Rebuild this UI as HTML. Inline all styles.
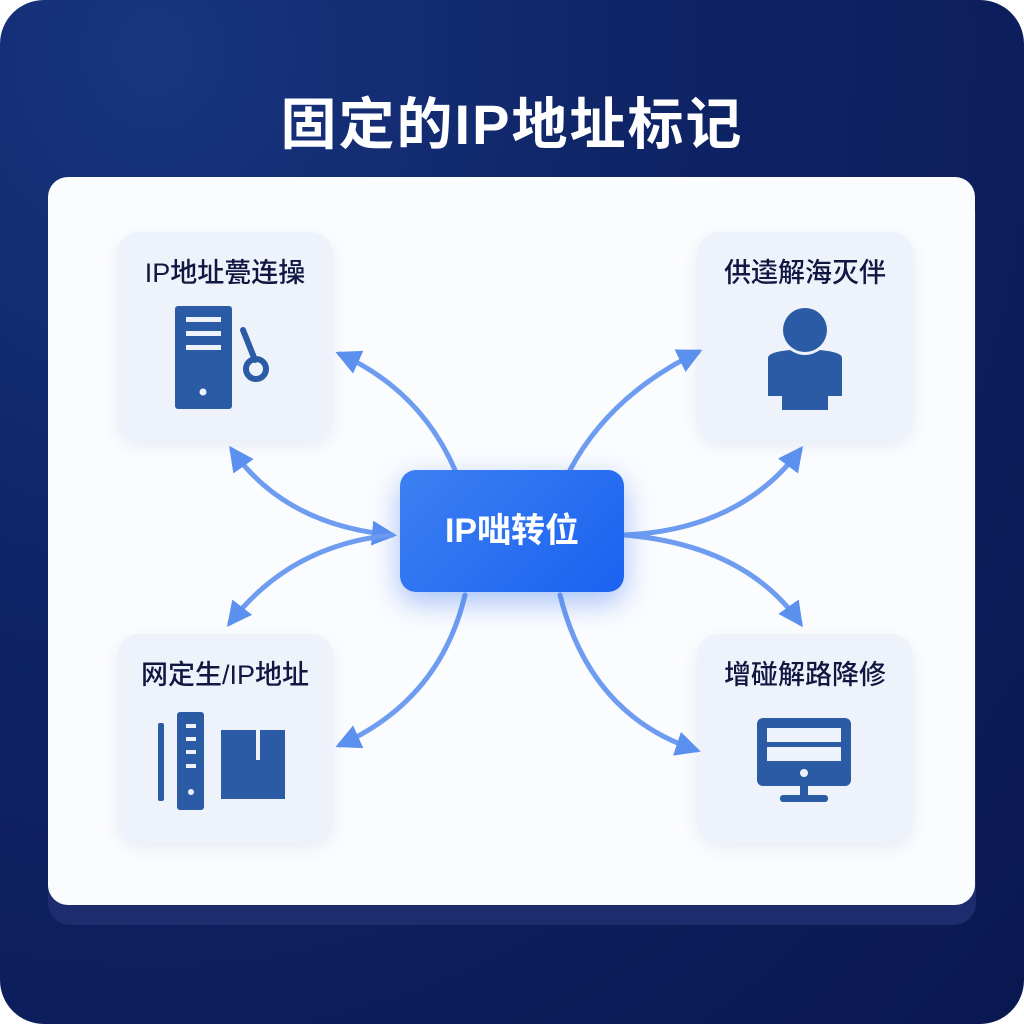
<!DOCTYPE html>
<html><head><meta charset="utf-8"><style>
html,body{margin:0;padding:0;width:1024px;height:1024px;overflow:hidden;background:#fff}
.bg{position:absolute;left:0;top:0;width:1024px;height:1024px;border-radius:44px;background:radial-gradient(ellipse at 15% 5%,#183580 0%,#0f2466 40%,#0a1850 100%)}
.t{position:absolute;left:0;width:1024px;text-align:center;top:80px;color:#fff;font:bold 56px "Liberation Sans","Noto Sans CJK SC",sans-serif;letter-spacing:2px}
.panelsh{position:absolute;left:48px;top:195px;width:928px;height:730px;border-radius:22px;background:#1c2c6c}
.panel{position:absolute;left:48px;top:177px;width:927px;height:728px;border-radius:20px;background:#fbfcfe}
.card{position:absolute;width:216px;height:208px;border-radius:22px;background:#eef3fb;box-shadow:0 6px 16px rgba(120,150,200,.15)}
.lbl{position:absolute;left:0;width:216px;text-align:center;top:19px;font:500 27px "Liberation Sans","Noto Sans CJK SC",sans-serif;color:#111740}
.center{position:absolute;left:400px;top:470px;width:224px;height:122px;border-radius:16px;background:linear-gradient(135deg,#3c80f2,#1b62f0);box-shadow:0 10px 30px rgba(60,120,240,.45);color:#fff;font:bold 34px "Liberation Sans","Noto Sans CJK SC",sans-serif;text-align:center;line-height:122px}
svg{position:absolute;left:0;top:0}
</style></head><body>
<div class="bg"></div>
<div class="t">固定的IP地址标记</div>
<div class="panelsh"></div>
<div class="panel"></div>
<div class="card" style="left:117px;top:232px"><div class="lbl">IP地址甍连操</div></div>
<div class="card" style="left:697px;top:232px"><div class="lbl">供逵解海灭伴</div></div>
<div class="card" style="left:117px;top:634px"><div class="lbl">网定生/IP地址</div></div>
<div class="card" style="left:697px;top:634px"><div class="lbl">增碰解路降修</div></div>
<svg width="1024" height="1024" viewBox="0 0 1024 1024">
<defs><marker id="a" viewBox="0 0 10 10" refX="8" refY="5" markerWidth="5" markerHeight="5" orient="auto-start-reverse"><path d="M0,0L10,5L0,10z" fill="#5b90ee"/></marker></defs>
<g fill="none" stroke="#6d9cf0" stroke-width="5" stroke-linecap="round">
<path d="M455,470 Q420,390 340,354" marker-end="url(#a)"/>
<path d="M232,450 Q285,525 392,535" marker-start="url(#a)" marker-end="url(#a)"/>
<path d="M392,535 Q290,545 230,623" marker-end="url(#a)"/>
<path d="M465,595 Q440,700 340,745" marker-end="url(#a)"/>
<path d="M570,470 Q610,395 698,352" marker-end="url(#a)"/>
<path d="M624,535 Q740,530 800,450" marker-end="url(#a)"/>
<path d="M624,535 Q745,545 800,623" marker-end="url(#a)"/>
<path d="M560,595 Q590,715 696,750" marker-end="url(#a)"/>
</g>
<g fill="#2c5ba6">
<rect x="175" y="306" width="57" height="103" rx="3"/>
<rect x="186" y="317" width="35" height="5" fill="#eef3fb"/><rect x="186" y="331" width="35" height="5" fill="#eef3fb"/><rect x="186" y="345" width="35" height="5" fill="#eef3fb"/>
<circle cx="203" cy="392" r="3.5" fill="#eef3fb"/>
<path d="M243,330 L255,360" stroke="#2c5ba6" stroke-width="6" stroke-linecap="round"/>
<circle cx="256" cy="369" r="10" fill="none" stroke="#2c5ba6" stroke-width="6"/>
<circle cx="805" cy="330" r="22"/>
<path d="M768,358 Q768,352 790,350 Q805,360 820,350 Q842,352 842,358 L842,396 L828,396 L828,410 L782,410 L782,396 L768,396z"/>
<rect x="158" y="723" width="6" height="78" rx="2"/>
<rect x="177" y="712" width="27" height="98" rx="3"/>
<rect x="186" y="724" width="10" height="4" fill="#eef3fb"/><rect x="186" y="737" width="10" height="4" fill="#eef3fb"/><rect x="186" y="750" width="10" height="4" fill="#eef3fb"/><rect x="186" y="764" width="10" height="4" fill="#eef3fb"/>
<circle cx="191" cy="792" r="3" fill="#eef3fb"/>
<rect x="221" y="730" width="64" height="69"/>
<rect x="256" y="730" width="4" height="30" fill="#eef3fb"/>
<rect x="757" y="718" width="94" height="68" rx="6"/>
<rect x="767" y="728" width="74" height="14" fill="#eef3fb"/><rect x="767" y="747" width="74" height="14" fill="#eef3fb"/>
<circle cx="804" cy="773" r="4" fill="#eef3fb"/>
<rect x="800" y="784" width="8" height="14"/>
<rect x="780" y="795" width="48" height="7" rx="3"/>
</g>
</svg>
<div class="center">IP咄转位</div>
</body></html>
